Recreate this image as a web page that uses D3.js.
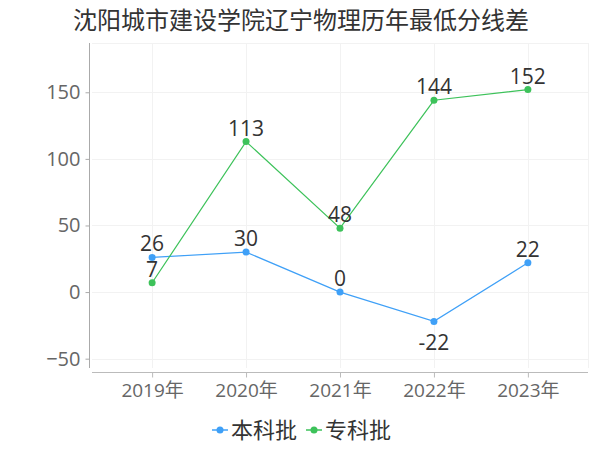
<!DOCTYPE html>
<html>
<head>
<meta charset="utf-8">
<script src="https://cdn.jsdelivr.net/npm/d3@7/dist/d3.min.js"></script>
<style>
    body { margin: 0; background: #fff; }
    svg { font-family: "Open Sans", "Noto Sans", "Noto Sans CJK SC", sans-serif; }
</style>
</head>
<body>
<svg id="chart" width="600" height="450"></svg>
<script>
var years = ['2019年', '2020年', '2021年', '2022年', '2023年'];
var benke = [26, 30, 0, -22, 22];
var zhuanke = [7, 113, 48, 144, 152];
var yTicks = [-50, 0, 50, 100, 150];
var seriesNames = ['本科批', '专科批'];
var seriesColors = ['#3fa0f7', '#3dc25a'];

var svg = d3.select('#chart');

var x = d3.scalePoint().domain(years).range([92, 588]).padding(0.64);
var y = d3.scaleLinear().domain([-57, 187]).range([368, 43]);

// title
svg.append('text')
    .attr('x', 301).attr('y', 29)
    .attr('text-anchor', 'middle')
    .attr('font-size', 24)
    .attr('fill', '#333')
    .attr('font-family', '"Noto Sans CJK SC", sans-serif')
    .text('沈阳城市建设学院辽宁物理历年最低分线差');

// grid
var grid = svg.append('g').attr('stroke', '#f2f2f2').attr('stroke-width', 1);
yTicks.concat([187]).forEach(function(t) {
    grid.append('line')
        .attr('x1', 92).attr('x2', 588)
        .attr('y1', Math.round(y(t)) + 0.5).attr('y2', Math.round(y(t)) + 0.5);
});
years.forEach(function(d) {
    grid.append('line')
        .attr('x1', Math.round(x(d)) + 0.5).attr('x2', Math.round(x(d)) + 0.5)
        .attr('y1', 43).attr('y2', 368);
});
grid.append('line').attr('x1', 588.5).attr('x2', 588.5).attr('y1', 43).attr('y2', 368);

// y axis
var yAxis = svg.append('g')
    .attr('transform', 'translate(89.5,0)')
    .call(d3.axisLeft(y).tickValues(yTicks).tickSize(4).tickPadding(5));
yAxis.select('.domain').attr('stroke', '#aaa').attr('d', 'M0,43V368');
yAxis.selectAll('.tick line').attr('stroke', '#aaa');
yAxis.selectAll('.tick text')
    .attr('font-size', 20).attr('fill', '#666')
    .attr('font-family', '"Open Sans", sans-serif');

// x axis
var xAxis = svg.append('g')
    .attr('transform', 'translate(0,372.5)')
    .call(d3.axisBottom(x).tickSize(5).tickPadding(6));
xAxis.select('.domain').attr('stroke', '#bbb').attr('d', 'M92,0H588');
xAxis.selectAll('.tick line').attr('stroke', '#bbb');
xAxis.selectAll('.tick text')
    .attr('font-size', 19).attr('fill', '#666')
    .attr('font-family', '"Open Sans", "Noto Sans CJK SC", sans-serif');

// series
var allSeries = [benke, zhuanke];
allSeries.forEach(function(vals, i) {
    var pts = vals.map(function(v, j) { return [x(years[j]), y(v)]; });
    svg.append('path')
        .attr('d', d3.line()(pts))
        .attr('fill', 'none')
        .attr('stroke', seriesColors[i])
        .attr('stroke-width', 1.2);
    svg.append('g').selectAll('circle')
        .data(pts).enter().append('circle')
        .attr('cx', function(p) { return p[0]; })
        .attr('cy', function(p) { return p[1]; })
        .attr('r', 3.5)
        .attr('fill', seriesColors[i]);
});

// value labels
allSeries.forEach(function(vals, i) {
    svg.append('g').selectAll('text')
        .data(vals).enter().append('text')
        .attr('x', function(v, j) { return x(years[j]); })
        .attr('y', function(v) { return v < 0 ? y(v) + 29 : y(v) - 6; })
        .attr('text-anchor', 'middle')
        .attr('font-size', 21)
        .attr('fill', '#333')
        .text(function(v) { return v; });
});

// legend
var legendX = [212, 306];
seriesNames.forEach(function(name, i) {
    var g = svg.append('g').attr('transform', 'translate(' + legendX[i] + ',430)');
    g.append('line').attr('x1', 0).attr('x2', 16).attr('stroke', seriesColors[i]).attr('stroke-width', 1.5);
    g.append('circle').attr('cx', 8).attr('cy', 0).attr('r', 3.5).attr('fill', seriesColors[i]);
    g.append('text')
        .attr('x', 19).attr('y', 8)
        .attr('font-size', 22)
        .attr('fill', '#333')
        .attr('font-family', '"Noto Sans CJK SC", sans-serif')
        .text(name);
});
</script>
</body>
</html>
